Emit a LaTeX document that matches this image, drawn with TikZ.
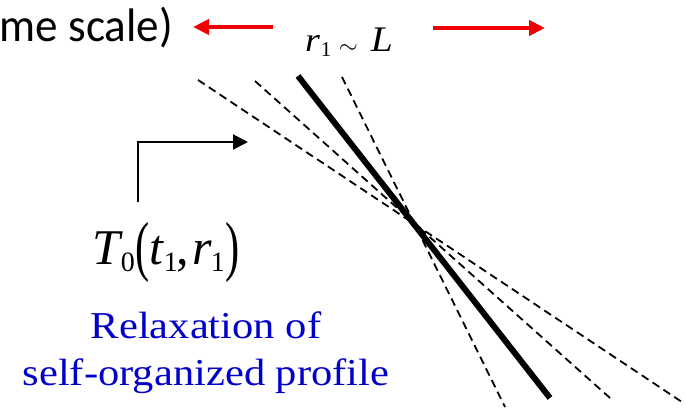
\documentclass[tikz,border=0pt]{standalone}
\usepackage{fontspec}
\usetikzlibrary{arrows.meta}
\newfontfamily\tmsfont{Liberation Serif}
\newfontfamily\calfont{Carlito}
\definecolor{relblue}{RGB}{0,0,200}
\definecolor{arrred}{RGB}{240,0,0}
\newcommand{\lsub}[3]{\raisebox{-#3}{\fontsize{#2}{#2}\selectfont #1}}
\begin{document}
\begin{tikzpicture}[x=1pt,y=-1pt,
  txt/.style={inner sep=0pt,outer sep=0pt},
  dashln/.style={line width=1.8pt,dash pattern=on 8pt off 5pt},
  thickln/.style={line width=6pt},
  redarr/.style={draw=arrred,line width=4.5pt,-{Triangle[length=16pt,width=15pt]},arrred},
  blkarr/.style={line width=2pt,-{Triangle[length=15pt,width=15pt]}}]
\useasboundingbox (0,0) rectangle (686,409);
% texts
\node[txt,anchor=base east] (scale) at (173,42) {\scalebox{0.96}[1]{\calfont\fontsize{47}{50}\selectfont me scale)}};
\node[txt,anchor=base west] (rL) at (305,52) {\tmsfont\fontsize{34}{38}\selectfont\scalebox{1.12}[1]{\textit{r}}\kern1pt\lsub{1}{21}{5pt}\kern7.5pt\raisebox{-2pt}{\resizebox{19pt}{!}{$\sim$}}\kern13pt\scalebox{1.1}[1]{\fontsize{36}{40}\selectfont\textit{L}}};
\node[txt,anchor=base west] (T0) at (92,265) {\tmsfont\fontsize{50}{54}\selectfont\textit{T}\kern-2pt\lsub{0}{28}{6pt}\kern1pt\raisebox{-3pt}{\scalebox{0.85}[1.33]{(}}\textit{t}\kern-1pt\lsub{1}{28}{6pt}\kern-1pt,\kern3pt\textit{r}\kern-1pt\lsub{1}{28}{6pt}\kern1pt\raisebox{-3pt}{\scalebox{0.85}[1.33]{)}}};
\node[txt,anchor=base,text=relblue] (rel1) at (206,338) {\scalebox{1.12}[1]{\tmsfont\fontsize{38}{42}\selectfont Relaxation of}};
\node[txt,anchor=base,text=relblue] (rel2) at (206,385) {\scalebox{1.12}[1]{\tmsfont\fontsize{38}{42}\selectfont self-organized profile}};
% red arrows
\coordinate (la0) at (273,27);
\coordinate (la1) at (193,27);
\coordinate (ra0) at (433,28);
\coordinate (ra1) at (545,28);
\draw[redarr] (la0) -- (la1);
\draw[redarr] (ra0) -- (ra1);
% black elbow arrow
\coordinate (ea0) at (138,202);
\coordinate (ea1) at (248,142);
\draw[blkarr] (ea0) |- (ea1);
% profile lines
\coordinate (th0) at (298,76);
\coordinate (th1) at (550,398);
\draw[thickln] (th0) -- (th1);
\coordinate (d1a) at (342,77);
\coordinate (d1b) at (505,407);
\coordinate (d2a) at (255,81);
\coordinate (d2b) at (610,398);
\coordinate (d3a) at (198,80);
\coordinate (d3b) at (682,402);
\draw[dashln] (d1a) -- (d1b);
\draw[dashln] (d2a) -- (d2b);
\draw[dashln] (d3a) -- (d3b);
\end{tikzpicture}
\end{document}
